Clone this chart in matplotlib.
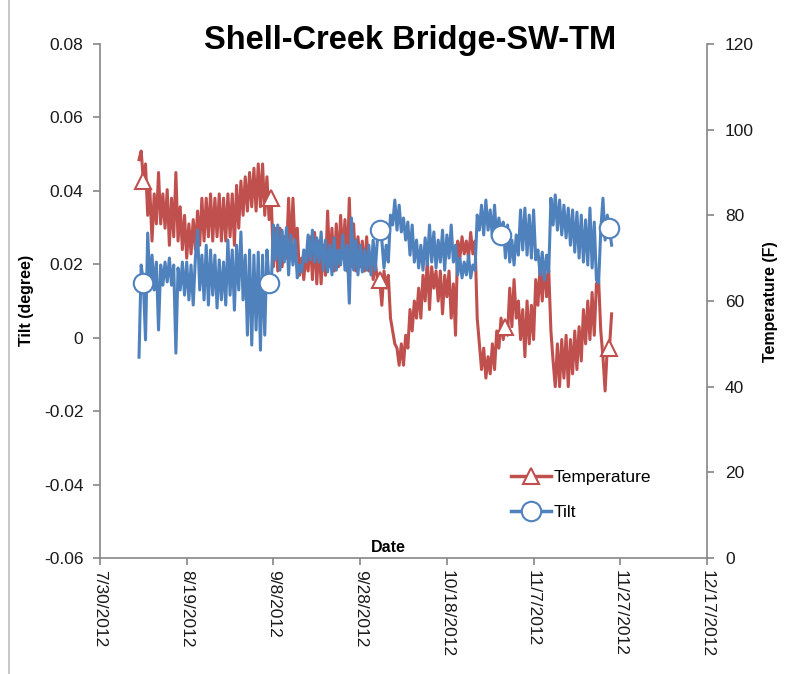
import numpy as np
import matplotlib
matplotlib.use("Agg")
import matplotlib.pyplot as plt
from matplotlib.lines import Line2D
import datetime as dt

plt.rcParams['font.family'] = ['Liberation Sans', 'DejaVu Sans']

# ---------------- data (12-hour samples starting 8/8/2012) ----------------
start_date = "2012-08-08T00"
temperature_F = [
    93, 95, 88, 92, 80, 86, 74, 85, 78, 90,
    78, 85, 77, 86, 73, 84, 75, 90, 74, 82,
    72, 80, 70, 78, 71, 79, 72, 81, 73, 84,
    74, 84, 75, 85, 74, 84, 75, 85, 74, 84,
    74, 85, 75, 85, 73, 87, 77, 88, 80, 89,
    81, 90, 82, 91, 81, 92, 82, 92, 80, 89,
    79, 84, 68, 77, 67, 77, 68, 75, 70, 84,
    71, 84, 72, 77, 66, 70, 65, 71, 67, 75,
    65, 76, 64, 74, 64, 73, 66, 81, 68, 77,
    67, 78, 68, 80, 70, 79, 67, 84, 68, 78,
    67, 75, 68, 74, 67, 75, 67, 71, 65, 69,
    65, 65, 59, 67, 63, 66, 56, 53, 50, 49,
    45, 50, 45, 52, 49, 58, 53, 60, 56, 63,
    56, 66, 60, 70, 58, 68, 63, 67, 60, 67,
    57, 66, 61, 67, 56, 64, 52, 74, 70, 75,
    71, 74, 70, 76, 71, 74, 56, 50, 44, 49,
    42, 47, 43, 50, 44, 53, 49, 56, 51, 54,
    52, 63, 54, 65, 56, 60, 51, 58, 47, 60,
    50, 59, 51, 65, 59, 68, 60, 69, 61, 67,
    53, 46, 40, 50, 40, 51, 42, 52, 40, 51,
    43, 53, 44, 54, 46, 58, 50, 60, 51, 62,
    52, 64, 65, 53, 47, 39, 49, 49, 57,
]
tilt_mdeg = [
    -5.3, 19.8, 15.0, -0.6, 28.5, 14.3, 22.5, 13.0, 20.6, 2.1,
    19.8, 14.3, 20.6, 15.2, 21.7, 14.3, 19.8, -4.2, 19.0, 13.0,
    20.6, 11.6, 20.6, 10.3, 19.8, 8.9, 21.7, 29.3, 13.0, 22.5,
    10.3, 25.2, 8.9, 23.9, 11.6, 22.5, 8.1, 21.2, 10.3, 20.6,
    8.9, 26.6, 11.6, 23.9, 7.5, 25.2, 13.0, 28.8, 10.3, 22.5,
    0.7, 23.9, -2.0, 22.5, 2.1, 23.3, -3.4, 22.5, 0.7, 23.9,
    15.0, 14.3, 30.7, 21.2, 30.7, 18.4, 29.3, 20.6, 30.0, 17.1,
    28.0, 19.8, 26.6, 16.3, 19.8, 17.9, 23.9, 20.6, 28.0, 21.2,
    29.3, 20.6, 27.2, 20.6, 28.8, 18.4, 26.6, 17.9, 25.2, 17.1,
    27.2, 18.4, 23.9, 19.8, 28.0, 18.4, 25.2, 9.4, 32.6, 18.4,
    26.6, 17.1, 25.2, 17.9, 23.9, 18.4, 25.2, 17.1, 26.6, 18.4,
    27.2, 29.3, 26.6, 19.0, 25.2, 20.6, 33.4, 30.7, 37.5, 29.3,
    36.1, 28.8, 32.6, 26.6, 31.5, 22.5, 30.7, 20.6, 26.6, 19.0,
    25.2, 18.4, 27.2, 19.8, 30.7, 20.6, 28.8, 19.0, 26.6, 20.6,
    29.3, 18.4, 28.0, 21.7, 30.7, 20.6, 25.2, 17.1, 21.7, 16.3,
    20.6, 17.1, 22.5, 16.3, 19.8, 18.4, 33.4, 29.3, 36.1, 28.0,
    37.5, 29.3, 34.8, 27.2, 36.1, 26.6, 32.6, 28.0, 31.5, 21.7,
    30.7, 20.6, 26.6, 19.8, 28.0, 22.5, 34.8, 23.9, 35.3, 22.5,
    33.4, 21.7, 34.8, 21.2, 23.9, 17.1, 23.3, 15.7, 22.5, 17.9,
    38.0, 30.7, 38.9, 29.3, 37.5, 28.0, 36.1, 27.2, 35.3, 25.2,
    34.8, 23.3, 34.2, 21.7, 33.4, 20.6, 32.1, 19.8, 35.3, 19.0,
    31.5, 15.7, 14.9, 29.3, 38.0, 26.6, 33.4, 30.0, 25.2,
]
temp_marker_idx = [2, 61, 111, 169, 217]
tilt_marker_idx = [2, 60, 111, 167, 217]

x_tick_labels = ["7/30/2012", "8/19/2012", "9/8/2012", "9/28/2012",
                 "10/18/2012", "11/7/2012", "11/27/2012", "12/17/2012"]
y_left_ticks = [-0.06, -0.04, -0.02, 0, 0.02, 0.04, 0.06, 0.08]
y_left_labels = ["-0.06", "-0.04", "-0.02", "0", "0.02", "0.04", "0.06", "0.08"]
y_right_ticks = [0, 20, 40, 60, 80, 100, 120]

tilt = np.array(tilt_mdeg) / 1000.0
temp = np.array(temperature_F, dtype=float)
n = len(tilt)
times = np.datetime64(start_date) + np.arange(n) * np.timedelta64(12, 'h')
times = times.astype('datetime64[s]').astype(dt.datetime)
tick_dates = [dt.datetime.strptime(s, "%m/%d/%Y") for s in x_tick_labels]

RED = '#C0504D'
BLUE = '#4F81BD'
SPINE = '#868686'
TXT = '#1a1a1a'

fig = plt.figure(figsize=(8.04, 6.74), dpi=100)
ax = fig.add_axes([100/804, 1-558/674, 607/804, 514/674])
ax2 = ax.twinx()

# temperature on right axis (behind), tilt on left axis (on top)
ax2.plot(times, temp, color=RED, lw=2.2, solid_joinstyle='round',
         marker='^', markevery=temp_marker_idx, markersize=12,
         markerfacecolor='white', markeredgecolor=RED, markeredgewidth=1.5)
ax.plot(times, tilt, color=BLUE, lw=2.2, solid_joinstyle='round',
        marker='o', markevery=tilt_marker_idx, markersize=14,
        markerfacecolor='white', markeredgecolor=BLUE, markeredgewidth=1.5)
ax.set_zorder(ax2.get_zorder() + 1)
ax.patch.set_visible(False)

ax.set_xlim(tick_dates[0], tick_dates[-1])
ax.set_ylim(-0.06, 0.08)
ax2.set_ylim(0, 120)

ax.set_xticks(tick_dates)
ax.set_xticklabels(x_tick_labels, rotation=-90, fontsize=12.5, color=TXT)
ax.set_yticks(y_left_ticks)
ax.set_yticklabels(y_left_labels, fontsize=12.5, color=TXT)
ax2.set_yticks(y_right_ticks)
ax2.set_yticklabels([str(v) for v in y_right_ticks], fontsize=12.5, color=TXT)

for a in (ax, ax2):
    a.spines['top'].set_visible(False)
    for s in ('left', 'right', 'bottom'):
        a.spines[s].set_color(SPINE)
        a.spines[s].set_linewidth(1.2)
    a.tick_params(colors=SPINE, labelcolor=TXT, length=5, width=1.2, direction='out')
ax.tick_params(axis='y', pad=7)
ax2.tick_params(axis='y', pad=8)
ax.tick_params(axis='x', pad=4)
ax.spines['right'].set_visible(False)
ax2.spines['left'].set_visible(False)
ax2.spines['bottom'].set_visible(False)

fig.text(27/804, 1-300/674, "Tilt (degree)", rotation=90, ha='center', va='center',
         fontsize=11.5, fontweight='bold', color='black')
fig.text(771/804, 1-302/674, "Temperature (F)", rotation=90, ha='center', va='center',
         fontsize=11.5, fontweight='bold', color='black')
fig.text(388/804, 1-547/674, "Date", ha='center', va='center',
         fontsize=11.5, fontweight='bold', color='black')
fig.text(410/804, 1-40/674, "Shell-Creek Bridge-SW-TM", ha='center', va='center',
         fontsize=23.5, fontweight='bold', color='black')

handles = [
    Line2D([], [], color=RED, lw=2.5, marker='^', markersize=12,
           markerfacecolor='white', markeredgecolor=RED, markeredgewidth=1.5),
    Line2D([], [], color=BLUE, lw=2.5, marker='o', markersize=14,
           markerfacecolor='white', markeredgecolor=BLUE, markeredgewidth=1.5),
]
fig.legend(handles, ["Temperature", "Tilt"], loc='upper left',
           bbox_to_anchor=(511/804, 1-470/674), frameon=False, fontsize=12.5,
           handlelength=2.3, handletextpad=0.15, labelspacing=1.15, borderpad=0,
           borderaxespad=0)

# left edge of chart area border
fig.add_artist(Line2D([9/804, 9/804], [0, 1], transform=fig.transFigure,
                      color='#bfbfbf', lw=1.2))

fig.savefig("out.png", dpi=100)
